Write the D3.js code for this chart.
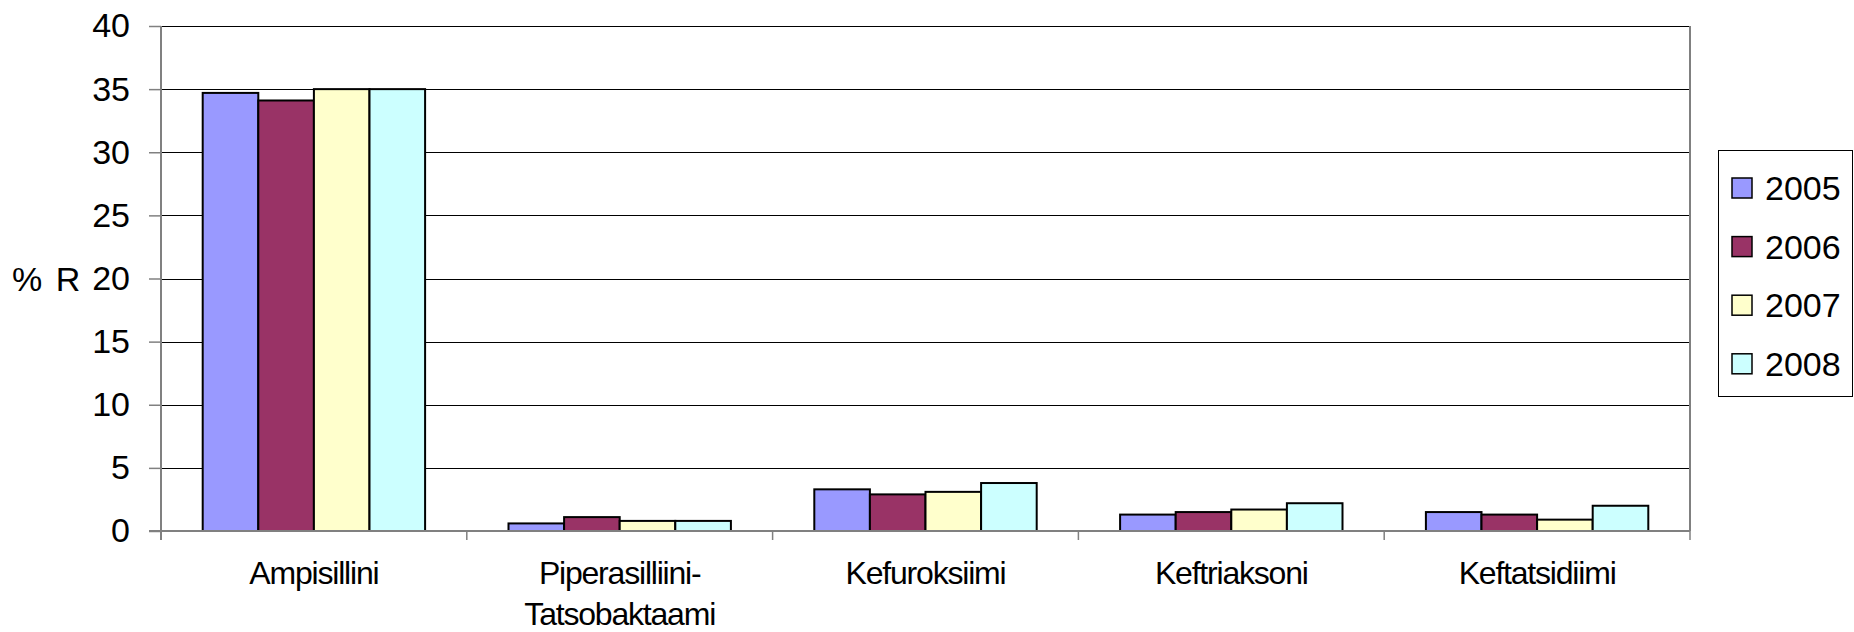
<!DOCTYPE html>
<html>
<head>
<meta charset="utf-8">
<script src="https://cdn.jsdelivr.net/npm/d3@7"></script>
<style>
  html, body { margin: 0; padding: 0; background: #fff; }
  svg { display: block; font-family: "Liberation Sans", Arial, sans-serif; }
</style>
</head>
<body>
<svg id="chart" width="1854" height="632"></svg>
<script>
const categories = ["Ampisillini", "Piperasilliini-\nTatsobaktaami", "Kefuroksiimi", "Keftriaksoni", "Keftatsidiimi"];
const years = ["2005", "2006", "2007", "2008"];
const values2005 = [34.7, 0.6, 3.3, 1.3, 1.5];
const values2006 = [34.1, 1.1, 2.9, 1.5, 1.3];
const values2007 = [35.0, 0.8, 3.1, 1.7, 0.9];
const values2008 = [35.0, 0.8, 3.8, 2.2, 2.0];
const yTicks = [0, 5, 10, 15, 20, 25, 30, 35, 40];
const yLabel = "% R";
const colors = ["#9999FF", "#993366", "#FFFFCC", "#CCFFFF"];

const seriesValues = [values2005, values2006, values2007, values2008];

const svg = d3.select("#chart");
const pLeft = 161, pRight = 1690, pTop = 26, pBottom = 531;

const x0 = d3.scaleBand().domain(categories).range([pLeft, pRight]).paddingInner(0).paddingOuter(0);
const x1 = d3.scaleBand().domain(years).range([0, x0.bandwidth()]).paddingInner(0).paddingOuter(0.75);
const y = d3.scaleLinear().domain([0, 40]).range([pBottom, pTop]);

// gridlines
svg.append("g").selectAll("line").data(yTicks.filter(t => t > 0)).join("line")
  .attr("x1", pLeft).attr("x2", pRight)
  .attr("y1", d => Math.round(y(d)) + 0.5).attr("y2", d => Math.round(y(d)) + 0.5)
  .attr("stroke", "#000").attr("stroke-width", 1);

// right border
svg.append("line").attr("x1", pRight).attr("x2", pRight).attr("y1", pTop).attr("y2", pBottom)
  .attr("stroke", "#808080").attr("stroke-width", 2);

// bars
const groups = svg.append("g").selectAll("g").data(categories).join("g")
  .attr("transform", d => `translate(${x0(d)},0)`);
groups.selectAll("rect").data((c, ci) => years.map((yr, si) => ({yr, si, v: seriesValues[si][ci]}))).join("rect")
  .attr("x", d => x1(d.yr))
  .attr("width", x1.bandwidth())
  .attr("y", d => y(d.v))
  .attr("height", d => y(0) - y(d.v))
  .attr("fill", d => colors[d.si])
  .attr("stroke", "#000").attr("stroke-width", 2);

// y axis
const yAxis = d3.axisLeft(y).tickValues(yTicks).tickSize(12).tickPadding(19).tickFormat(d3.format("d"));
const gy = svg.append("g").attr("transform", `translate(${pLeft},0)`).call(yAxis);
gy.select(".domain").attr("stroke", "#808080").attr("stroke-width", 2).attr("d", `M0,${pTop}V${pBottom + 9}`);
gy.selectAll(".tick line").attr("stroke", "#808080").attr("stroke-width", 1.5);
gy.selectAll(".tick text").attr("font-size", 34).attr("fill", "#000")
  .attr("font-family", "Liberation Sans, Arial, sans-serif");

// x axis
const xAxis = d3.axisBottom(x0).tickSize(0).tickFormat("");
const gx = svg.append("g").attr("transform", `translate(0,${pBottom})`).call(xAxis);
gx.select(".domain").attr("stroke", "#808080").attr("stroke-width", 2).attr("d", `M${pLeft - 12},0H${pRight}`);
gx.selectAll(".tick").remove();
// category boundary ticks
const boundaries = categories.map(c => x0(c)).concat([pRight]);
gx.selectAll("line.bt").data(boundaries).join("line").attr("class", "bt")
  .attr("x1", d => d).attr("x2", d => d).attr("y1", 0).attr("y2", 9)
  .attr("stroke", "#808080").attr("stroke-width", 1.5);

// category labels
const labels = svg.append("g").selectAll("text").data(categories).join("text")
  .attr("x", d => x0(d) + x0.bandwidth() / 2)
  .attr("y", 584)
  .attr("text-anchor", "middle")
  .attr("font-size", 32)
  .attr("letter-spacing", "-1.2px")
  .attr("fill", "#000");
labels.each(function(d) {
  const parts = d.split("\n");
  d3.select(this).selectAll("tspan").data(parts).join("tspan")
    .attr("x", x0(d) + x0.bandwidth() / 2)
    .attr("dy", (p, i) => i === 0 ? 0 : 41)
    .text(p => p);
});

// y label
svg.append("text").attr("x", 12).attr("y", y(20)).attr("dy", "0.36em")
  .attr("font-size", 34).attr("word-spacing", "4px").attr("fill", "#000").text(yLabel);

// legend
const lg = svg.append("g");
lg.append("rect").attr("x", 1718.5).attr("y", 150.5).attr("width", 134).attr("height", 246)
  .attr("fill", "#fff").attr("stroke", "#000").attr("stroke-width", 1);
const items = lg.selectAll("g.item").data(years).join("g").attr("class", "item")
  .attr("transform", (d, i) => `translate(1732,${188 + i * 58.6})`);
items.append("rect").attr("x", 0).attr("y", -10).attr("width", 20).attr("height", 20)
  .attr("fill", (d, i) => colors[i]).attr("stroke", "#000").attr("stroke-width", 1.5);
items.append("text").attr("x", 33).attr("y", 0).attr("dy", "0.36em")
  .attr("font-size", 34).attr("fill", "#000").text(d => d);
</script>
</body>
</html>
